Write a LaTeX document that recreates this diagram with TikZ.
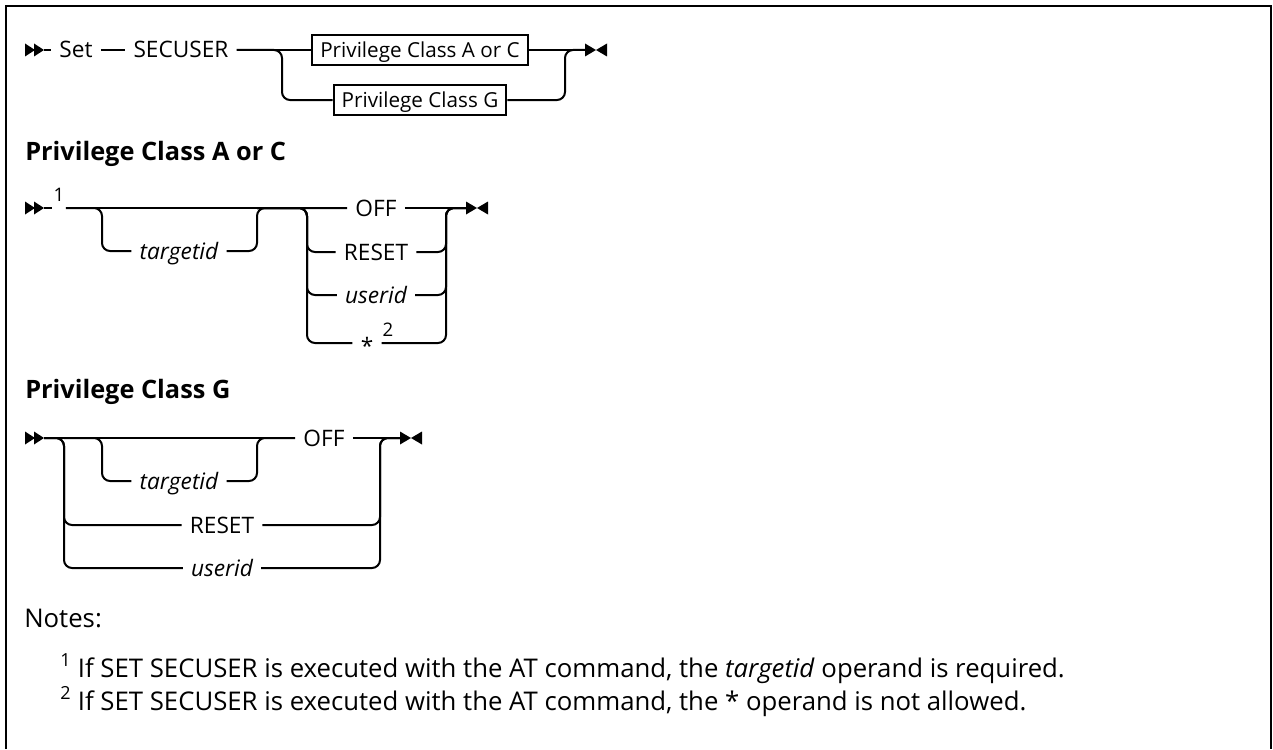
\documentclass[tikz,border=0pt]{standalone}
\usepackage{fontspec}
\setmainfont{Open Sans}
\tikzset{
  rail/.style={
    line width=1.5pt,
    rounded corners=6pt,
  },
  kw/.style={
    inner xsep=6pt,
    inner ysep=0pt,
    text height=12pt,
    text depth=0pt,
    font=\fontsize{17}{20}\selectfont,
  },
  var/.style={
    kw,
    font=\fontsize{17}{20}\selectfont\itshape,
  },
  refbox/.style={
    draw,
    line width=1.5pt,
    inner xsep=6pt,
    inner ysep=5.5pt,
    text height=11pt,
    text depth=0pt,
    font=\fontsize{15.5}{18}\selectfont,
  },
  fnote/.style={
    anchor=south,
    inner xsep=1pt,
    inner ysep=5pt,
    font=\fontsize{14}{16}\selectfont,
  },
  heading/.style={
    anchor=base west,
    inner sep=0pt,
    font=\fontsize{19}{23}\selectfont\bfseries,
  },
  notetext/.style={
    anchor=base west,
    inner sep=0pt,
    font=\fontsize{19.3}{23}\selectfont,
  },
  startmark/.pic={
    \fill (0,-6.5) -- (10,0) -- (0,6.5) -- cycle
          (9,-6.5) -- (19,0) -- (9,6.5) -- cycle;
    \coordinate (-tip) at (19,0);
  },
  stopmark/.pic={
    \fill (0,-6.5) -- (11,0) -- (0,6.5) -- cycle
          (22,-6.5) -- (11,0) -- (22,6.5) -- cycle;
    \coordinate (-in) at (0,0);
  },
}

\begin{document}
\begin{tikzpicture}[x=0.75pt,y=-0.75pt]
\useasboundingbox (0,0) rectangle (1273,749);
\draw[line width=1.6pt] (6,749) -- (6,6) -- (1271,6) -- (1271,749);

% SET SECUSER
\pic (s1) at (25,50) {startmark};
\node[kw] (set) at (76,50) {Set};
\node[kw] (secuser) at (181,50) {SECUSER};
\node[refbox] (clsac) at (420,50) {Privilege Class A or C};
\node[refbox] (clsg) at (420,100) {Privilege Class G};
\coordinate (r1L) at (282,50);
\coordinate (r1R) at (565,50);
\pic (e1) at (585,50) {stopmark};

\begin{scope}[rail]
\draw
  (s1-tip) -- (set.west);
\draw
  (set.east) -- (secuser.west);
\draw
  (secuser.east) -- (clsac.west);
\draw
  (secuser.east) -| (r1L |- clsg.west) -- (clsg.west);
\draw
  (clsac.east) -- (e1-in);
\draw
  (clsg.east) -| (r1R) -- (e1-in);
\end{scope}

% Privilege Class A or C
\node[heading] (hdac) at (25,160) {Privilege Class A or C};
\pic (s2) at (25,208) {startmark};
\node[fnote] (fn1) at (59,208) {1};
\coordinate (t2L) at (102,208);
\coordinate (t2R) at (257,208);
\node[var] (tgt2) at (179,251) {targetid};
\coordinate (c2L) at (307,208);
\coordinate (c2R) at (446,208);
\node[kw] (off2) at (376,208) {OFF};
\node[kw] (reset2) at (376,252) {RESET};
\node[var] (userid2) at (376,295) {userid};
\coordinate (r2star) at (376,343);
\node[kw,anchor=base] (star2) at (367,354) {*};
\node[fnote] (fn2) at (388,343) {2};
\pic (e2) at (466,208) {stopmark};

\begin{scope}[rail]
\draw
  (s2-tip) -- (fn1.south west);
\draw
  (fn1.south east) -- (off2.west);
\draw
  (fn1.south east) -| (t2L |- tgt2.west) -- (tgt2.west);
\draw
  (tgt2.east) -| (t2R) -- (off2.west);
\draw
  (t2R) -| (c2L |- reset2.west) -- (reset2.west);
\draw
  (t2R) -| (c2L |- userid2.west) -- (userid2.west);
\draw
  (t2R) -| (c2L |- r2star) -- (star2.west |- r2star);
\draw
  (off2.east) -- (e2-in);
\draw
  (reset2.east) -| (c2R) -- (e2-in);
\draw
  (userid2.east) -| (c2R) -- (e2-in);
\draw
  (star2.east |- r2star) -| (c2R) -- (e2-in);
\end{scope}

% Privilege Class G
\node[heading] (hdg) at (25,398) {Privilege Class G};
\pic (s3) at (25,438) {startmark};
\coordinate (c3L) at (64,438);
\coordinate (t3L) at (102,438);
\coordinate (t3R) at (257,438);
\node[var] (tgt3) at (179,481) {targetid};
\node[kw] (off3) at (324,438) {OFF};
\node[kw] (reset3) at (222,525) {RESET};
\node[var] (userid3) at (222,568) {userid};
\coordinate (c3R) at (380,438);
\pic (e3) at (400,438) {stopmark};

\begin{scope}[rail]
\draw
  (s3-tip) -- (off3.west);
\draw
  (c3L) -| (t3L |- tgt3.west) -- (tgt3.west);
\draw
  (tgt3.east) -| (t3R) -- (off3.west);
\draw
  (s3-tip) -| (c3L |- reset3.west) -- (reset3.west);
\draw
  (s3-tip) -| (c3L |- userid3.west) -- (userid3.west);
\draw
  (off3.east) -- (e3-in);
\draw
  (reset3.east) -| (c3R) -- (e3-in);
\draw
  (userid3.east) -| (c3R) -- (e3-in);
\end{scope}

% notes
\node[notetext] (notes) at (24,627) {Notes:};
\node[notetext] (note1) at (60,677)
  {\textsuperscript{1} If SET SECUSER is executed with the AT command, the \textit{targetid} operand is required.};
\node[notetext] (note2) at (60,710)
  {\textsuperscript{2} If SET SECUSER is executed with the AT command, the * operand is not allowed.};
\end{tikzpicture}
\end{document}
